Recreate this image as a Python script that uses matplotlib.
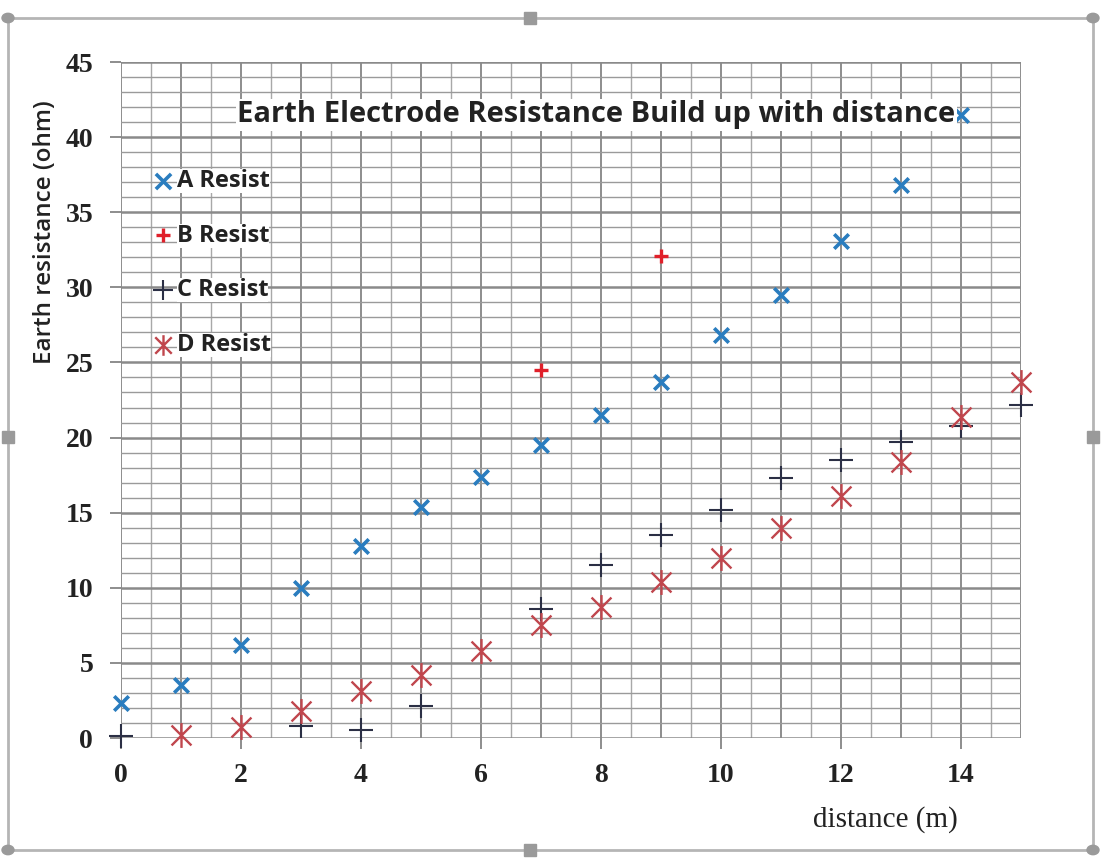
import numpy as np
import matplotlib
matplotlib.use("Agg")
import matplotlib.pyplot as plt
from matplotlib.path import Path
from matplotlib.ticker import MultipleLocator
from matplotlib.patches import Rectangle, Circle

# Dados
a_x = [0, 1, 2, 3, 4, 5, 6, 7, 8, 9, 10, 11, 12, 13, 14]
a_y = [2.3, 3.5, 6.2, 10.0, 12.8, 15.4, 17.4, 19.5, 21.5, 23.7, 26.8, 29.5, 33.1, 36.8, 41.5]

b_x = [7, 9]
b_y = [24.5, 32.1]

c_x = [0, 3, 4, 5, 7, 8, 9, 10, 11, 12, 13, 14, 15]
c_y = [0.1, 0.8, 0.5, 2.1, 8.6, 11.5, 13.5, 15.2, 17.3, 18.5, 19.7, 20.8, 22.2]

d_x = [1, 2, 3, 4, 5, 6, 7, 8, 9, 10, 11, 12, 13, 14, 15]
d_y = [0.2, 0.7, 1.8, 3.1, 4.2, 5.8, 7.5, 8.7, 10.4, 12.0, 14.0, 16.1, 18.4, 21.4, 23.7]

series_labels = ['A Resist', 'B Resist', 'C Resist', 'D Resist']

# Marcador asterisco estilo Excel (x + linha vertical)
asterisco = Path(
    [(-1, -1), (1, 1), (-1, 1), (1, -1), (0, -1.25), (0, 1.25)],
    [Path.MOVETO, Path.LINETO, Path.MOVETO, Path.LINETO, Path.MOVETO, Path.LINETO])

fig = plt.figure(figsize=(11.01, 8.59), dpi=100)
ax = fig.add_axes([121 / 1101, 1 - 738 / 859, 900 / 1101, 676 / 859])

ax.set_xlim(0, 15)
ax.set_ylim(0, 45)

# Grade
for xv in np.arange(0.5, 15, 1.0):
    ax.axvline(xv, color='#a8a8a8', lw=1.0, zorder=0)
for xv in np.arange(0, 16, 1.0):
    ax.axvline(xv, color='#7a7a7a', lw=1.2, zorder=0)
for yv in np.arange(0, 46, 1.0):
    if yv % 5 == 0:
        ax.axhline(yv, color='#8a8a8a', lw=1.8, zorder=0)
    else:
        ax.axhline(yv, color='#9a9a9a', lw=1.0, zorder=0)

for s in ax.spines.values():
    s.set_visible(False)

ax.xaxis.set_major_locator(MultipleLocator(2))
ax.yaxis.set_major_locator(MultipleLocator(5))
ax.tick_params(axis='both', length=8, width=1.2, color='#7a7a7a')
ax.tick_params(axis='y', pad=12)
ax.tick_params(axis='x', pad=10)
for lab in ax.get_xticklabels() + ax.get_yticklabels():
    lab.set_fontfamily('Liberation Serif')
    lab.set_fontweight('bold')
    lab.set_fontsize(20)
    lab.set_color('#222222')

ax.scatter(a_x, a_y, marker='x', s=110, linewidths=2.6, color='#2a7dbf', label=series_labels[0], zorder=3, clip_on=False)
ax.scatter(b_x, b_y, marker='+', s=90, linewidths=2.4, color='#e0202a', label=series_labels[1], zorder=3, clip_on=False)
ax.scatter(c_x, c_y, marker='+', s=320, linewidths=1.5, color='#2b2f45', label=series_labels[2], zorder=3, clip_on=False)
ax.scatter(d_x, d_y, marker=asterisco, s=320, linewidths=1.7, color='#c0464d', label=series_labels[3], zorder=3, clip_on=False)

leg = ax.legend(loc='upper left', bbox_to_anchor=(0.033, 0.842), frameon=False,
                prop={'family': 'Open Sans', 'weight': 'bold', 'size': 17},
                labelspacing=1.3, handletextpad=0.1, handlelength=1.0, borderpad=0,
                borderaxespad=0)
for h, tam in zip(leg.legend_handles, [120, 100, 220, 220]):
    h.set_sizes([tam])
for t in leg.get_texts():
    t.set_color('#222222')
    t.set_bbox(dict(facecolor='white', edgecolor='none', pad=0))

ax.text(0.528, 0.922, 'Earth Electrode Resistance Build up with distance',
        transform=ax.transAxes, ha='center', va='center',
        fontsize=21, fontweight='bold', family='Open Sans', color='#222222',
        bbox=dict(facecolor='white', edgecolor='none', pad=1), zorder=4)

fig.text(45 / 1101, 1 - 232 / 859, 'Earth resistance (ohm)', rotation=90,
         ha='center', va='center', fontsize=17.5, family='Open Sans', fontweight='semibold', color='#222222')
fig.text(885 / 1101, 1 - 820 / 859, 'distance (m)', ha='center', va='center',
         fontsize=21, family='Liberation Serif', color='#222222')

# Moldura do gráfico (seleção estilo Excel)
fig.patches.append(Rectangle((8 / 1101, 1 - 850 / 859), 1085 / 1101, 832 / 859,
                             transform=fig.transFigure, fill=False, edgecolor='#b5b5b5', lw=2))
for (px, py) in [(8, 18), (1093, 18), (8, 850), (1093, 850)]:
    fig.patches.append(Circle((px / 1101, 1 - py / 859), 6 / 1101, transform=fig.transFigure,
                              facecolor='#9a9a9a', edgecolor='#9a9a9a'))
for (px, py) in [(530, 18), (8, 437), (1093, 437), (530, 850)]:
    fig.patches.append(Rectangle(((px - 6) / 1101, 1 - (py + 6) / 859), 12 / 1101, 12 / 859,
                                 transform=fig.transFigure, facecolor='#9a9a9a', edgecolor='#9a9a9a'))

fig.savefig('out.png', dpi=100, facecolor='white')
